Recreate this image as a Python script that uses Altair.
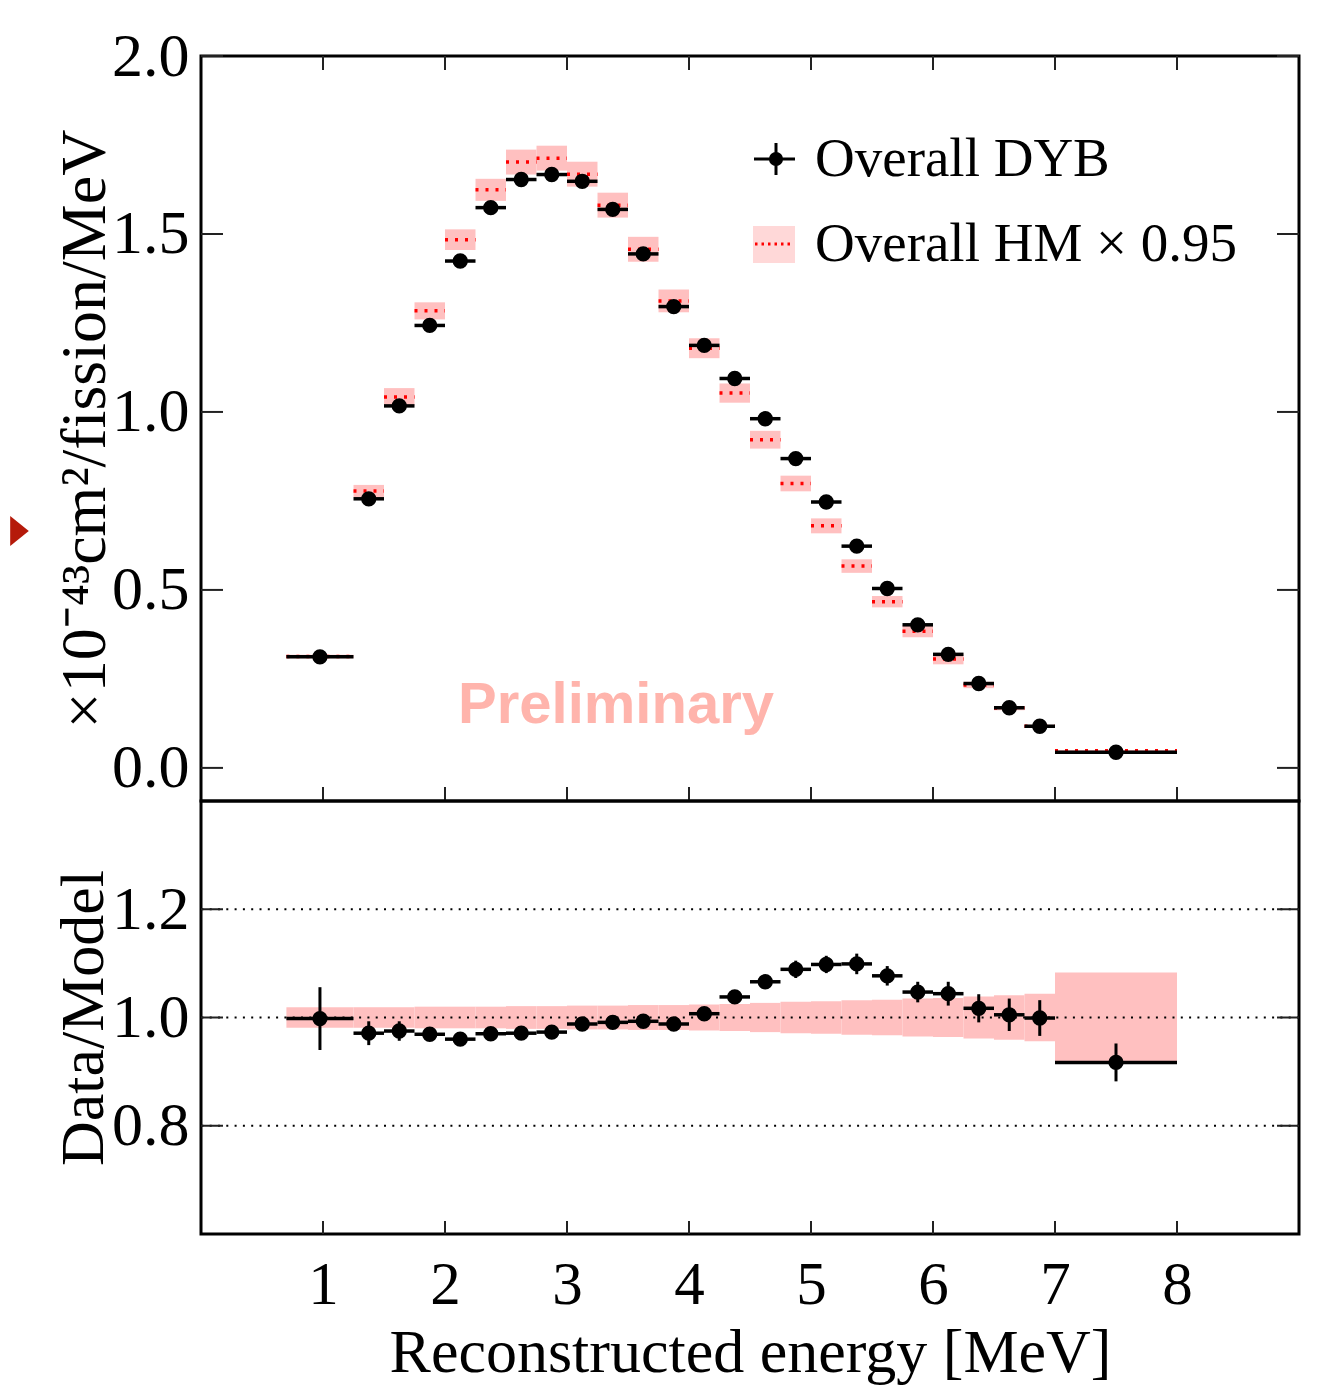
import altair as alt
import pandas as pd

# ---------------- data ----------------
bin_lo = [0.70, 1.25, 1.50, 1.75, 2.00, 2.25, 2.50, 2.75, 3.00, 3.25, 3.50, 3.75, 4.00,
          4.25, 4.50, 4.75, 5.00, 5.25, 5.50, 5.75, 6.00, 6.25, 6.50, 6.75, 7.00]
bin_hi = [1.25, 1.50, 1.75, 2.00, 2.25, 2.50, 2.75, 3.00, 3.25, 3.50, 3.75, 4.00, 4.25,
          4.50, 4.75, 5.00, 5.25, 5.50, 5.75, 6.00, 6.25, 6.50, 6.75, 7.00, 8.00]

dyb = [0.312, 0.756, 1.017, 1.243, 1.424, 1.574, 1.653, 1.667, 1.648, 1.569, 1.444, 1.296, 1.187,
       1.094, 0.981, 0.869, 0.747, 0.623, 0.504, 0.402, 0.319, 0.237, 0.169, 0.117, 0.044]
hm = [0.313, 0.778, 1.042, 1.284, 1.484, 1.624, 1.702, 1.713, 1.668, 1.581, 1.457, 1.312, 1.179,
      1.053, 0.922, 0.799, 0.680, 0.567, 0.467, 0.384, 0.306, 0.233, 0.168, 0.117, 0.048]
hm_err = [0.005, 0.017, 0.025, 0.024, 0.029, 0.031, 0.035, 0.035, 0.035, 0.035, 0.035, 0.032, 0.028,
          0.027, 0.025, 0.022, 0.021, 0.019, 0.016, 0.017, 0.015, 0.009, 0.006, 0.004, 0.002]

ratio = [0.998, 0.971, 0.975, 0.969, 0.960, 0.970, 0.971, 0.973, 0.988, 0.991, 0.993, 0.988, 1.007,
         1.038, 1.066, 1.089, 1.098, 1.099, 1.077, 1.047, 1.044, 1.017, 1.005, 0.999, 0.917]
ratio_err = [0.058, 0.022, 0.018, 0.012, 0.008, 0.008, 0.008, 0.008, 0.008, 0.008, 0.008, 0.008, 0.008,
             0.010, 0.012, 0.016, 0.016, 0.019, 0.018, 0.019, 0.022, 0.026, 0.030, 0.033, 0.035]
ratio_band = [0.019, 0.019, 0.019, 0.020, 0.020, 0.020, 0.021, 0.021, 0.022, 0.022, 0.023, 0.023, 0.024,
              0.025, 0.027, 0.029, 0.030, 0.032, 0.033, 0.035, 0.036, 0.039, 0.041, 0.044, 0.083]

x_ticks = [1, 2, 3, 4, 5, 6, 7, 8]
top_ticks = [0.0, 0.5, 1.0, 1.5, 2.0]
bot_ticks = [0.8, 1.0, 1.2]

legend_items = ["Overall DYB", "Overall HM \u00d7 0.95"]

# ---------------- tables ----------------
df = pd.DataFrame({"lo": bin_lo, "hi": bin_hi, "dyb": dyb, "hm": hm, "hm_err": hm_err,
                   "ratio": ratio, "ratio_err": ratio_err, "ratio_band": ratio_band})
df["mid"] = (df["lo"] + df["hi"]) / 2
df["hm_lo"] = df["hm"] - df["hm_err"]
df["hm_hi"] = df["hm"] + df["hm_err"]
df["r_lo"] = df["ratio"] - df["ratio_err"]
df["r_hi"] = df["ratio"] + df["ratio_err"]
df["rb_lo"] = 1.0 - df["ratio_band"]
df["rb_hi"] = 1.0 + df["ratio_band"]

xt_df = pd.DataFrame({"v": x_ticks})
yt_df = pd.DataFrame({"v": top_ticks})
yb_df = pd.DataFrame({"v": bot_ticks})
one = pd.DataFrame({"a": [0]})

# ---------------- styling ----------------
FONT = "Liberation Serif"
W, HT, HB = 1098, 745, 433
TICK_LONG, TICK_SHORT = 22, 14
PINK = "#ffc0c0"

xs = alt.Scale(domain=[0, 9], nice=False, zero=False)
yts = alt.Scale(domain=[-0.093, 2.0], nice=False, zero=False)
ybs = alt.Scale(domain=[0.6, 1.4], nice=False, zero=False)

y_axis_top = alt.Axis(values=top_ticks, format=".1f", ticks=False, domain=False, grid=False,
                      labelFontSize=62, labelPadding=12,
                      title="\u00d710\u207b\u2074\u00b3cm\u00b2/fission/MeV",
                      titleFontSize=64, titlePadding=-6)
y_axis_bot = alt.Axis(values=bot_ticks, format=".1f", ticks=False, domain=False, grid=False,
                      labelFontSize=62, labelPadding=12,
                      title="Data/Model", titleFontSize=62, titlePadding=-4)
x_axis_bot = alt.Axis(values=x_ticks, format="d", ticks=False, domain=False, grid=False,
                      labelFontSize=61, labelPadding=21,
                      title="Reconstructed energy [MeV]", titleFontSize=62, titlePadding=7)


def XT(field):
    return alt.X(field, scale=xs, axis=None)


def YT(field):
    return alt.Y(field, scale=yts, axis=y_axis_top)


def XB(field):
    return alt.X(field, scale=xs, axis=x_axis_bot)


def YB(field):
    return alt.Y(field, scale=ybs, axis=y_axis_bot)


# ---------------- top panel ----------------
base = alt.Chart(df)
t_band = base.mark_rect(color=PINK).encode(x=XT("lo:Q"), x2="hi:Q", y=YT("hm_lo:Q"), y2="hm_hi:Q")
t_model = base.mark_rule(color="#ff0000", strokeDash=[3, 7], strokeWidth=3.5).encode(
    x=XT("lo:Q"), x2="hi:Q", y=YT("hm:Q"))
t_hbar = base.mark_rule(color="black", strokeWidth=3.5).encode(x=XT("lo:Q"), x2="hi:Q", y=YT("dyb:Q"))
t_pts = base.mark_circle(color="black", size=235, opacity=1).encode(x=XT("mid:Q"), y=YT("dyb:Q"))

tick_col = "#222222"
t_lt = alt.Chart(yt_df).mark_rule(color=tick_col, strokeWidth=2).encode(
    y=YT("v:Q"), x=alt.value(0), x2=alt.value(TICK_LONG))
t_rt = alt.Chart(yt_df).mark_rule(color=tick_col, strokeWidth=2).encode(
    y=YT("v:Q"), x=alt.value(W - TICK_LONG), x2=alt.value(W))
t_tt = alt.Chart(xt_df).mark_rule(color=tick_col, strokeWidth=2).encode(
    x=XT("v:Q"), y=alt.value(0), y2=alt.value(TICK_SHORT))
t_bt = alt.Chart(xt_df).mark_rule(color=tick_col, strokeWidth=2).encode(
    x=XT("v:Q"), y=alt.value(HT - TICK_SHORT), y2=alt.value(HT))

prelim = alt.Chart(one).mark_text(font="Liberation Sans", fontWeight="bold", fontSize=58,
                                  color="#ffb4ac", align="center", baseline="alphabetic").encode(
    x=alt.value(415), y=alt.value(667), text=alt.value("Preliminary"))

# legend
lg1_h = alt.Chart(one).mark_rule(color="black", strokeWidth=3).encode(
    x=alt.value(553), x2=alt.value(594), y=alt.value(103))
lg1_v = alt.Chart(one).mark_rule(color="black", strokeWidth=3).encode(
    x=alt.value(575), y=alt.value(87), y2=alt.value(119))
lg1_p = alt.Chart(one).mark_circle(color="black", size=200, opacity=1).encode(
    x=alt.value(575), y=alt.value(103))
lg2_r = alt.Chart(one).mark_rect(color="#ffd8d8").encode(
    x=alt.value(552), x2=alt.value(594), y=alt.value(170), y2=alt.value(207))
lg2_l = alt.Chart(one).mark_rule(color="#ff0000", strokeDash=[2.5, 4], strokeWidth=3).encode(
    x=alt.value(554), x2=alt.value(592), y=alt.value(188))
lg_txt1 = alt.Chart(one).mark_text(font=FONT, fontSize=55, color="black", align="left",
                                   baseline="middle").encode(
    x=alt.value(614), y=alt.value(103), text=alt.value(legend_items[0]))
lg_txt2 = alt.Chart(one).mark_text(font=FONT, fontSize=55, color="black", align="left",
                                   baseline="middle").encode(
    x=alt.value(614), y=alt.value(188), text=alt.value(legend_items[1]))

# slide marker triangle at the far left
tri = alt.Chart(one).mark_point(shape="M -0.62 -1 L 0.62 0 L -0.62 1 Z", filled=True,
                                color="#b51a0a", size=900, opacity=1, strokeWidth=0).encode(
    x=alt.value(-181.5), y=alt.value(475))

top = alt.layer(t_band, t_model, t_hbar, t_pts, t_lt, t_rt, t_tt, t_bt, prelim,
                lg2_r, lg2_l, lg1_h, lg1_v, lg1_p, lg_txt1, lg_txt2, tri).properties(width=W, height=HT)

# ---------------- bottom panel ----------------
b_band = base.mark_rect(color=PINK).encode(x=XB("lo:Q"), x2="hi:Q", y=YB("rb_lo:Q"), y2="rb_hi:Q")
b_grid = alt.Chart(yb_df).mark_rule(color="black", strokeDash=[2, 6.3], strokeWidth=2).encode(y=YB("v:Q"))
b_hbar = base.mark_rule(color="black", strokeWidth=3.5).encode(x=XB("lo:Q"), x2="hi:Q", y=YB("ratio:Q"))
b_err = base.mark_rule(color="black", strokeWidth=3).encode(x=XB("mid:Q"), y=YB("r_lo:Q"), y2="r_hi:Q")
b_pts = base.mark_circle(color="black", size=235, opacity=1).encode(x=XB("mid:Q"), y=YB("ratio:Q"))
b_lt = alt.Chart(yb_df).mark_rule(color=tick_col, strokeWidth=2).encode(
    y=YB("v:Q"), x=alt.value(0), x2=alt.value(TICK_LONG))
b_rt = alt.Chart(yb_df).mark_rule(color=tick_col, strokeWidth=2).encode(
    y=YB("v:Q"), x=alt.value(W - TICK_LONG), x2=alt.value(W))
b_bt = alt.Chart(xt_df).mark_rule(color=tick_col, strokeWidth=2).encode(
    x=XB("v:Q"), y=alt.value(HB - 13), y2=alt.value(HB))

bottom = alt.layer(b_band, b_grid, b_hbar, b_err, b_pts, b_lt, b_rt, b_bt).properties(width=W, height=HB)

chart = alt.vconcat(top, bottom, spacing=0, bounds="flush").properties(
    padding={"left": 0, "top": 15, "right": 5, "bottom": 5}
).configure_view(stroke="black", strokeWidth=3).configure_axis(
    labelFont=FONT, titleFont=FONT, labelColor="black", titleColor="black", titleFontWeight="normal"
)

chart.save("out.html", embed_options={"renderer": "svg", "actions": False})
